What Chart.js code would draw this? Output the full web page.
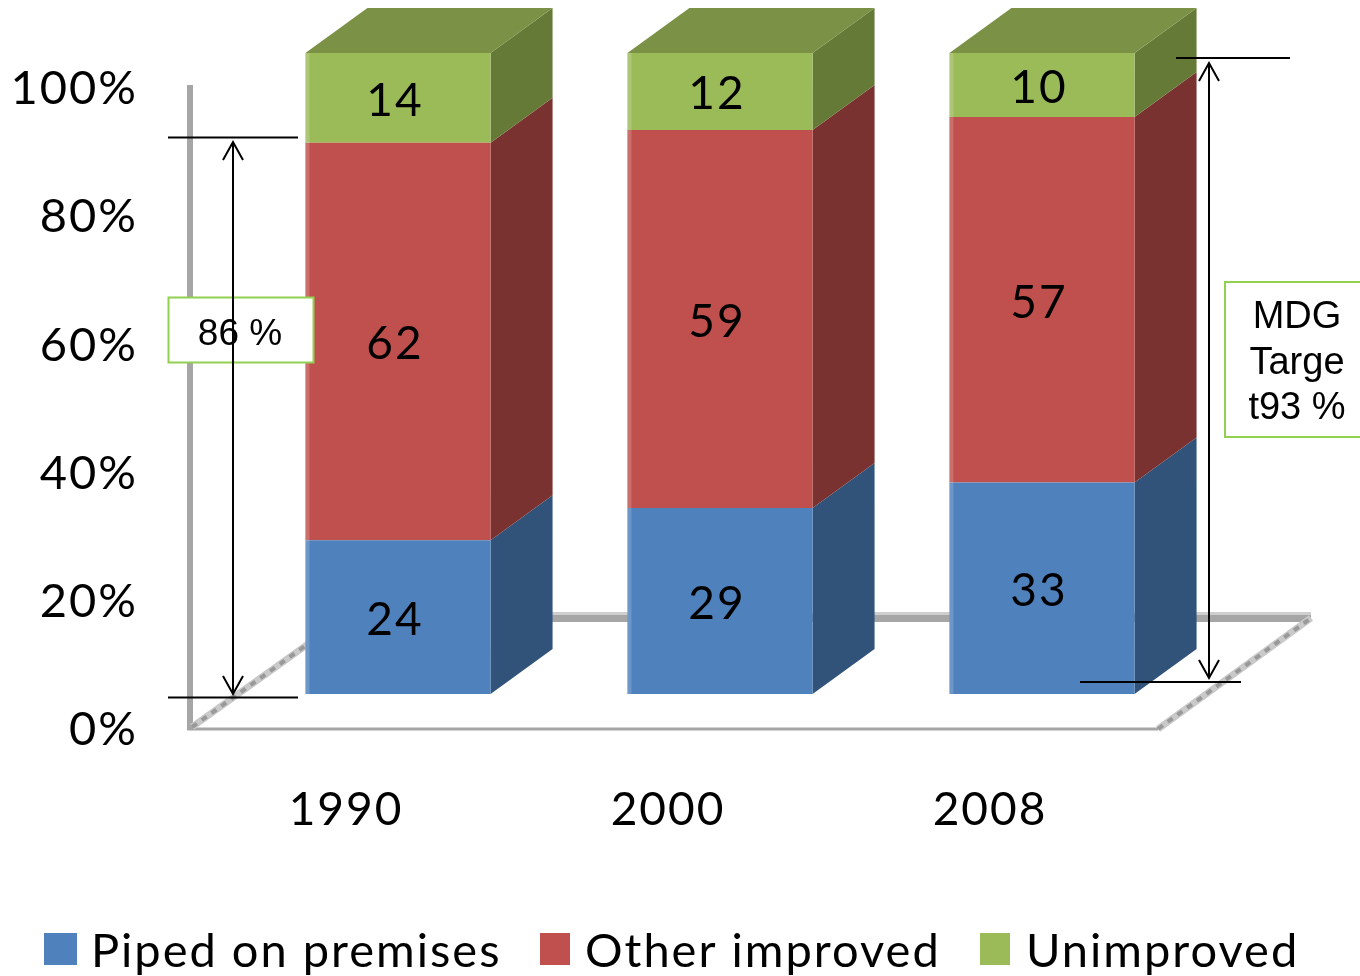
<!DOCTYPE html>
<html>
<head>
<meta charset="utf-8">
<title>Drinking water coverage</title>
<script src="https://cdn.jsdelivr.net/npm/chart.js@4"></script>
<style>
    html, body { margin: 0; padding: 0; background: #fff; overflow: hidden; }
    canvas { display: block; }
</style>
</head>
<body>
<canvas id="waterChart" width="1360" height="976"></canvas>
<script>
const categories = ["1990", "2000", "2008"];
const pipedOnPremises = [24, 29, 33];
const otherImproved = [62, 59, 57];
const unimproved = [14, 12, 10];
const tickLabels = ["0%", "20%", "40%", "60%", "80%", "100%"];
const seriesNames = ["Piped on premises", "Other improved", "Unimproved"];

const frontColors = ["#4f81bd", "#c0504d", "#9bbb59"];
const sideColors = ["#31537a", "#7a3230", "#667a38"];
const topColor = "#7a9146";
const lineGrey = "#a6a6a6";
const boxGreen = "#92d050";
const fontFamily = "Lato, sans-serif";

// how far the back of a bar sits from its front face
const depthX = 62;
const depthY = 45;

function polygon(ctx, points, color) {
    ctx.fillStyle = color;
    ctx.beginPath();
    points.forEach(function (p, i) {
        if (i === 0) ctx.moveTo(p[0], p[1]);
        else ctx.lineTo(p[0], p[1]);
    });
    ctx.closePath();
    ctx.fill();
}

function drawFloor(ctx) {
    ctx.save();
    ctx.strokeStyle = lineGrey;
    ctx.lineWidth = 6;
    ctx.beginPath();
    ctx.moveTo(190, 85);
    ctx.lineTo(190, 730);
    ctx.stroke();

    ctx.lineWidth = 3;
    ctx.beginPath();
    ctx.moveTo(187, 729);
    ctx.lineTo(1158, 729);
    ctx.stroke();

    // back edge of the floor, with a lighter band along its top
    ctx.lineWidth = 7;
    ctx.beginPath();
    ctx.moveTo(500, 618.5);
    ctx.lineTo(1311, 618.5);
    ctx.stroke();
    ctx.lineWidth = 3;
    ctx.strokeStyle = "#cfcfcf";
    ctx.beginPath();
    ctx.moveTo(500, 613.5);
    ctx.lineTo(1311, 613.5);
    ctx.stroke();

    // floor edges running back from the front corners
    [[192, 727, 308, 644], [1158, 729, 1311, 618]].forEach(function (e) {
        ctx.lineWidth = 7;
        ctx.strokeStyle = "#c9c9c9";
        ctx.beginPath();
        ctx.moveTo(e[0], e[1]);
        ctx.lineTo(e[2], e[3]);
        ctx.stroke();
        ctx.lineWidth = 4;
        ctx.strokeStyle = "#999999";
        ctx.setLineDash([6, 6]);
        ctx.beginPath();
        ctx.moveTo(e[0], e[1]);
        ctx.lineTo(e[2], e[3]);
        ctx.stroke();
        ctx.setLineDash([]);
    });
    ctx.restore();
}

const bars3d = {
    id: "bars3d",
    beforeDraw(chart) {
        // the axis labels are spaced out a little wider than the font's default
        chart.ctx.letterSpacing = "2px";
    },
    beforeDatasetsDraw(chart) {
        const ctx = chart.ctx;
        drawFloor(ctx);
        chart.data.datasets.forEach(function (ds, d) {
            chart.getDatasetMeta(d).data.forEach(function (bar) {
                const right = bar.x + bar.width / 2;
                const left = bar.x - bar.width / 2;
                polygon(ctx, [
                    [right, bar.y],
                    [right + depthX, bar.y - depthY],
                    [right + depthX, bar.base - depthY],
                    [right, bar.base]
                ], sideColors[d]);
                if (d === chart.data.datasets.length - 1) {
                    polygon(ctx, [
                        [left, bar.y],
                        [left + depthX, bar.y - depthY],
                        [right + depthX, bar.y - depthY],
                        [right, bar.y]
                    ], topColor);
                }
            });
        });
    },
    afterDatasetsDraw(chart) {
        const ctx = chart.ctx;
        ctx.save();
        chart.data.datasets.forEach(function (ds, d) {
            chart.getDatasetMeta(d).data.forEach(function (bar, i) {
                // soft light strip along the left edge of each front face
                ctx.fillStyle = "rgba(255,255,255,0.18)";
                ctx.fillRect(bar.x - bar.width / 2, bar.y, 4, bar.base - bar.y);

                ctx.fillStyle = "#000";
                ctx.font = "46px " + fontFamily;
                ctx.textAlign = "center";
                ctx.textBaseline = "middle";
                ctx.fillText(ds.data[i], bar.x - 3, (bar.y + bar.base) / 2 + 3);
            });
        });
        ctx.restore();
    }
};

function arrow(ctx, x, y1, y2) {
    ctx.beginPath();
    ctx.moveTo(x, y1);
    ctx.lineTo(x, y2);
    ctx.moveTo(x - 10, y1 + 18);
    ctx.lineTo(x, y1);
    ctx.lineTo(x + 10, y1 + 18);
    ctx.moveTo(x - 10, y2 - 18);
    ctx.lineTo(x, y2);
    ctx.lineTo(x + 10, y2 - 18);
    ctx.stroke();
}

function rule(ctx, x1, x2, y) {
    ctx.beginPath();
    ctx.moveTo(x1, y);
    ctx.lineTo(x2, y);
    ctx.stroke();
}

function noteBox(ctx, x, y, w, h) {
    ctx.fillStyle = "#fff";
    ctx.fillRect(x, y, w, h);
    ctx.strokeStyle = boxGreen;
    ctx.lineWidth = 2;
    ctx.strokeRect(x, y, w, h);
}

const targetNotes = {
    id: "targetNotes",
    afterDraw(chart) {
        const ctx = chart.ctx;
        ctx.save();
        ctx.letterSpacing = "0px";

        noteBox(ctx, 168.5, 297.5, 145, 65);
        noteBox(ctx, 1225, 282, 150, 155);

        ctx.strokeStyle = "#000";
        ctx.lineWidth = 2;
        rule(ctx, 168, 298, 137.5);
        rule(ctx, 168, 298, 697.5);
        arrow(ctx, 233, 142, 694);
        rule(ctx, 1176, 1290, 58);
        rule(ctx, 1080, 1241, 682);
        arrow(ctx, 1209, 63, 678);

        ctx.fillStyle = "#000";
        ctx.textAlign = "center";
        ctx.textBaseline = "middle";
        ctx.font = "37px 'Liberation Sans', Arial, sans-serif";
        ctx.fillText("86 %", 240, 335);
        ctx.font = "38px 'Liberation Sans', Arial, sans-serif";
        ctx.fillText("MDG", 1297, 318);
        ctx.fillText("Targe", 1297, 364);
        ctx.fillText("t93 %", 1297, 409);

        // legend row
        ctx.textAlign = "left";
        ctx.font = "47px " + fontFamily;
        ctx.letterSpacing = "2px";
        const swatchX = [44, 540, 980];
        const swatchW = [33, 30, 30];
        const textX = [91, 585, 1026];
        seriesNames.forEach(function (name, i) {
            ctx.fillStyle = frontColors[i];
            ctx.fillRect(swatchX[i], 933, swatchW[i], 32);
            ctx.fillStyle = "#000";
            ctx.fillText(name, textX[i], 952);
        });
        ctx.restore();
    }
};

new Chart(document.getElementById("waterChart"), {
    type: "bar",
    data: {
        labels: categories,
        datasets: [
            { label: seriesNames[0], data: pipedOnPremises, backgroundColor: frontColors[0] },
            { label: seriesNames[1], data: otherImproved, backgroundColor: frontColors[1] },
            { label: seriesNames[2], data: unimproved, backgroundColor: frontColors[2] }
        ]
    },
    plugins: [bars3d, targetNotes],
    options: {
        responsive: false,
        animation: false,
        barPercentage: 0.575,
        categoryPercentage: 1,
        layout: { padding: { top: 53, right: 157, bottom: 0, left: 0 } },
        plugins: {
            legend: { display: false },
            tooltip: { enabled: false }
        },
        scales: {
            x: {
                stacked: true,
                grid: { display: false },
                border: { display: false },
                afterFit: function (scale) {
                    scale.height = 282;
                    scale.paddingLeft = 0;
                    scale.paddingRight = 0;
                },
                ticks: {
                    color: "#000",
                    font: { family: fontFamily, size: 46 },
                    padding: 81,
                    labelOffset: -52,
                    maxRotation: 0
                }
            },
            y: {
                stacked: true,
                min: 0,
                max: 100,
                grid: { display: false },
                border: { display: false },
                afterFit: function (scale) {
                    scale.width = 237;
                    scale.paddingTop = 0;
                    scale.paddingBottom = 0;
                },
                ticks: {
                    color: "#000",
                    font: { family: fontFamily, size: 47 },
                    stepSize: 20,
                    padding: 91,
                    labelOffset: 36,
                    callback: function (value, index) { return tickLabels[index]; }
                }
            }
        }
    }
});
</script>
</body>
</html>
